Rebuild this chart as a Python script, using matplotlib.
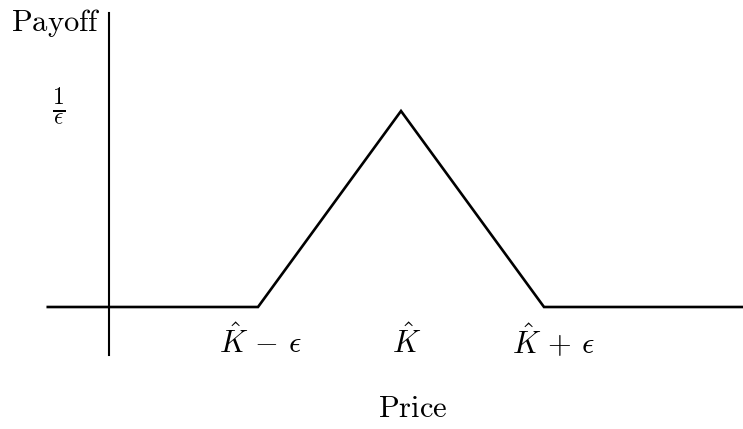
import matplotlib.pyplot as plt

plt.rcParams['mathtext.fontset'] = 'cm'

# Données (unités : K = 0, epsilon = 1, gain max = 1/epsilon = 1)
prix = [-2.47, -1.0, 0.0, 1.0, 2.40]
gain = [0.0, 0.0, 1.0, 0.0, 0.0]
ticks_pos = [-1.0, 0.0, 1.0]
ticks_lab = [r'$\hat{K}\,-\,\epsilon$', r'$\hat{K}$', r'$\hat{K}\,+\,\epsilon$']
decal = [0.014, 0.042, 0.063]  # petit décalage horizontal des étiquettes

fig = plt.figure(figsize=(7.43, 4.29), dpi=100)
ax = fig.add_axes([0, 0, 1, 1])
ax.set_xlim(-401 / 143, 342 / 143)
ax.set_ylim(-122 / 196, 307 / 196)
ax.axis('off')

# Courbe du gain
ax.plot(prix, gain, color='black', lw=1.9, solid_joinstyle='miter')
# Axe vertical
ax.plot([-2.045, -2.045], [-0.245, 1.5], color='black', lw=1.5)

# Textes
ax.text(-2.41, 1.45, r'$\mathrm{Payoff}$', fontsize=22, ha='center', va='center')
ax.text(-2.392, 1.02, r'$\frac{\mathbf{1}}{\epsilon}$', fontsize=24, ha='center', va='center')
for p, d, l in zip(ticks_pos, decal, ticks_lab):
    ax.text(p + d, -0.175, l, fontsize=22, ha='center', va='center')
ax.text(0.08, -0.52, r'$\mathrm{Price}$', fontsize=22, ha='center', va='center')

plt.savefig('out.png', dpi=100)
